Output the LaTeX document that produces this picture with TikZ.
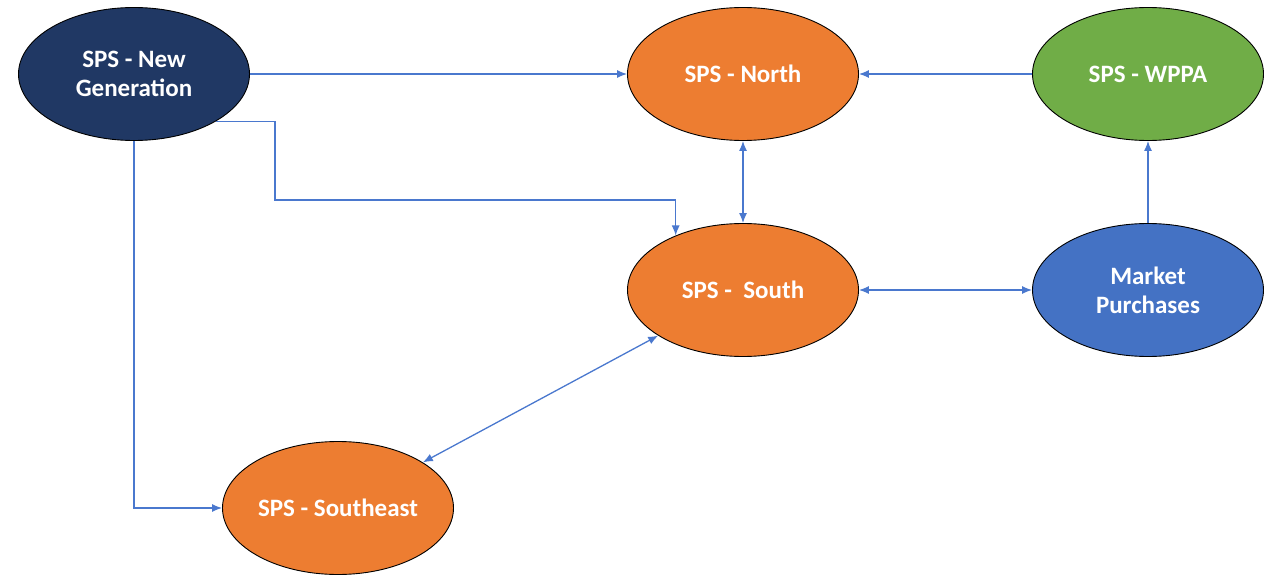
\documentclass[tikz,border=0pt]{standalone}
\usepackage{fontspec}
\setmainfont{Carlito}
\usetikzlibrary{shapes.geometric,arrows.meta}
\definecolor{navy}{HTML}{203864}
\definecolor{orng}{HTML}{ED7D31}
\definecolor{grn}{HTML}{70AD47}
\definecolor{blu}{HTML}{4472C4}
\definecolor{lnk}{HTML}{4A78CE}
\begin{document}
\begin{tikzpicture}[x=1pt,y=-1pt,
  oval/.style={ellipse,draw=black,line width=0.9pt,minimum width=231pt,minimum height=133pt,inner sep=0pt,
    text=white,font=\fontsize{25}{29}\selectfont\bfseries,align=center},
  arr/.style={draw=lnk,line width=1.3pt,-{Latex[length=10pt,width=8pt]}},
  darr/.style={draw=lnk,line width=1.3pt,{Latex[length=10pt,width=8pt]}-{Latex[length=10pt,width=8pt]}}]
\useasboundingbox (0,0) rectangle (1267,575);
\node[oval,fill=navy] (ng) at (134,74) {SPS - New\\Generation};
\node[oval,fill=orng] (n) at (743,74) {SPS - North};
\node[oval,fill=grn] (w) at (1148,74) {SPS - WPPA};
\node[oval,fill=orng] (s) at (743,290) {SPS -\ \ South};
\node[oval,fill=blu] (m) at (1148,290) {Market\\Purchases};
\node[oval,fill=orng] (se) at (338,508) {SPS - Southeast};
\draw[arr] (ng) -- (n);
\draw[arr] (w) -- (n);
\draw[darr] (n) -- (s);
\draw[darr] (s) -- (m);
\draw[arr] (m.north) -- (w.south);
\draw[arr] (ng.south east) -| (275,200) -| (s.141);
\draw[arr] (ng.south) |- (se.west);
\draw[darr] (se) -- (s);
\end{tikzpicture}
\end{document}
